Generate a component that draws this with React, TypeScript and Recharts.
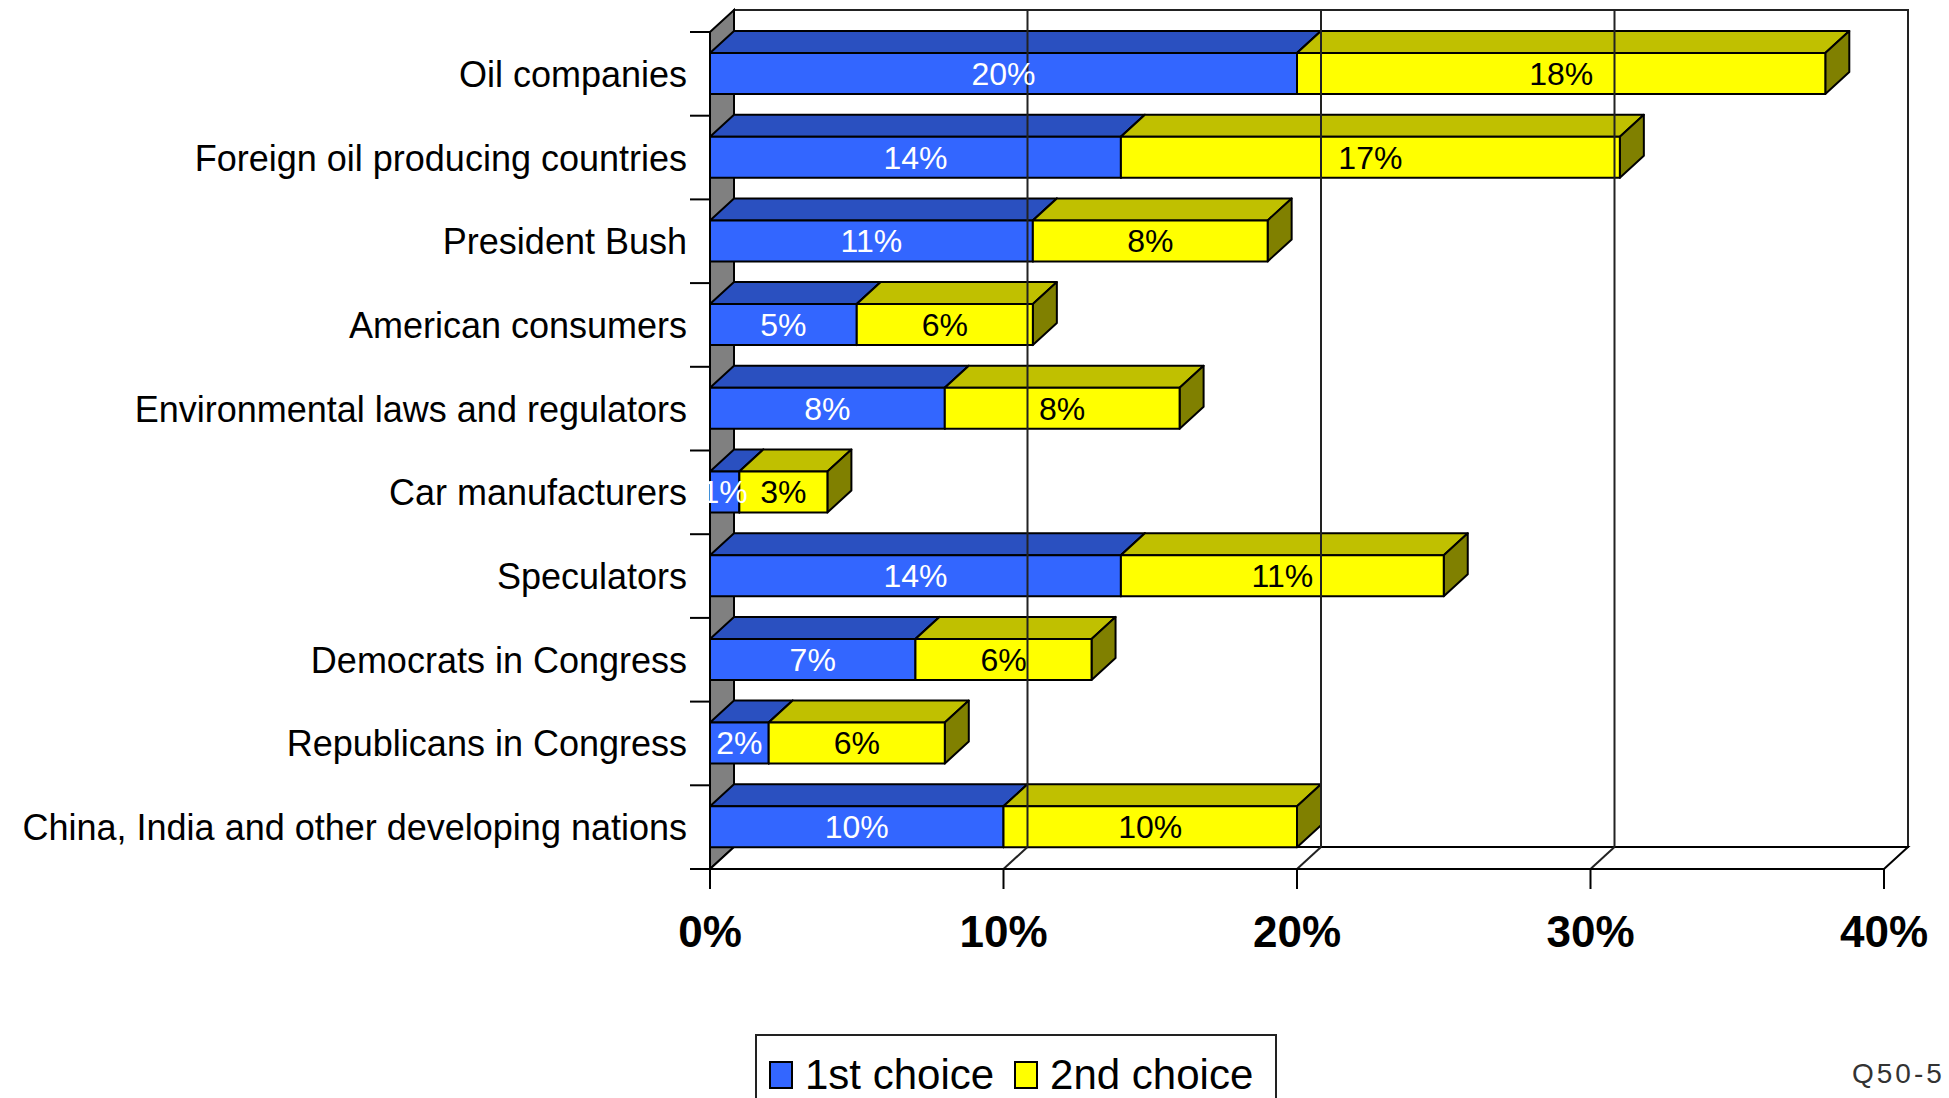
import { Bar, BarChart, LabelList, Legend, ReferenceArea, ReferenceLine, XAxis, YAxis } from 'recharts';

const categories = [
  'Oil companies',
  'Foreign oil producing countries',
  'President Bush',
  'American consumers',
  'Environmental laws and regulators',
  'Car manufacturers',
  'Speculators',
  'Democrats in Congress',
  'Republicans in Congress',
  'China, India and other developing nations',
];
const firstChoice = [20, 14, 11, 5, 8, 1, 14, 7, 2, 10];
const secondChoice = [18, 17, 8, 6, 8, 3, 11, 6, 6, 10];
const xTicks = [0, 10, 20, 30, 40];
const gridValues = [10, 20, 30];
const seriesNames = ['1st choice', '2nd choice'];

const data = categories.map((name, i) => ({ name, first: firstChoice[i], second: secondChoice[i] }));

// depth of the fake 3d box
const DX = 24;
const DY = 22;
const FONT = '"Liberation Sans", Arial, sans-serif';

const BLUE = { front: '#3366ff', top: '#2a50c0', side: '#1a3380' };
const YELLOW = { front: '#ffff00', top: '#c0c000', side: '#808000' };

function makeBox(colors: typeof BLUE) {
  return function Box(props: any) {
    const { x, y, width, height } = props;
    if (width == null || width <= 0) return <g />;
    const r = x + width;
    const b = y + height;
    return (
      <g stroke="#000" strokeWidth={2} strokeLinejoin="round">
        <polygon points={`${x},${y} ${x + DX},${y - DY} ${r + DX},${y - DY} ${r},${y}`} fill={colors.top} />
        <polygon points={`${r},${y} ${r + DX},${y - DY} ${r + DX},${b - DY} ${r},${b}`} fill={colors.side} />
        <rect x={x} y={y} width={width} height={height} fill={colors.front} />
      </g>
    );
  };
}

function Walls(props: any) {
  const { x, y, width, height } = props;
  const b = y + height;
  return (
    <g stroke="#222" strokeWidth={2}>
      <rect x={x + DX} y={y - DY} width={width} height={height} fill="#fff" />
      <polygon points={`${x},${y} ${x + DX},${y - DY} ${x + DX},${b - DY} ${x},${b}`} fill="#808080" stroke="#000" />
      <polygon points={`${x},${b} ${x + DX},${b - DY} ${x + width + DX},${b - DY} ${x + width},${b}`} fill="#fff" stroke="#000" />
    </g>
  );
}

function GridLine(props: any) {
  const { x1, y1, y2 } = props;
  const top = Math.min(y1, y2);
  const bottom = Math.max(y1, y2);
  return (
    <g stroke="#222" strokeWidth={2}>
      <line x1={x1 + DX} y1={top - DY} x2={x1 + DX} y2={bottom - DY} />
      <line x1={x1} y1={bottom} x2={x1 + DX} y2={bottom - DY} />
    </g>
  );
}

function XTick(props: any) {
  const { x, y, payload } = props;
  return (
    <text x={x} y={y + 56} textAnchor="middle" fontFamily={FONT} fontWeight="bold" fontSize={44} fill="#000">
      {`${payload.value}%`}
    </text>
  );
}

function YTick(props: any) {
  const { x, y, payload, index } = props;
  const half = payload.offset || 41.85;
  const edge = x + 23;
  return (
    <g>
      <line x1={edge - 20} y1={y - half} x2={edge} y2={y - half} stroke="#000" strokeWidth={2} />
      {index === categories.length - 1 && (
        <line x1={edge - 20} y1={y + half} x2={edge} y2={y + half} stroke="#000" strokeWidth={2} />
      )}
      <text x={x} y={y + 13} textAnchor="end" fontFamily={FONT} fontSize={36} fill="#000">
        {payload.value}
      </text>
    </g>
  );
}

function LegendBox() {
  const colors = [BLUE.front, YELLOW.front];
  return (
    <div
      style={{
        width: 522,
        height: 80,
        border: '2px solid #222',
        background: '#fff',
        display: 'flex',
        flexWrap: 'nowrap',
        alignItems: 'flex-start',
        paddingTop: 16,
        paddingLeft: 12,
        boxSizing: 'border-box',
        fontFamily: FONT,
        fontSize: 42,
        lineHeight: '46px',
        color: '#000',
        whiteSpace: 'nowrap',
      }}
    >
      {seriesNames.map((n, i) => (
        <div key={n} style={{ display: 'flex', alignItems: 'center', marginRight: 20, flexShrink: 0 }}>
          <span
            style={{
              display: 'inline-block',
              width: 20,
              height: 24,
              background: colors[i],
              border: '2px solid #000',
              marginRight: 12,
              flexShrink: 0,
            }}
          />
          <span style={{ whiteSpace: 'nowrap' }}>{n}</span>
        </div>
      ))}
    </div>
  );
}

export default function App() {
  return (
    <div style={{ position: 'absolute', left: 0, top: 0, width: 1949, height: 1098, background: '#fff', overflow: 'hidden' }}>
      <BarChart
        width={1949}
        height={1098}
        data={data}
        layout="vertical"
        margin={{ top: 32, right: 65, left: 0, bottom: 149 }}
      >
        <ReferenceArea x1={0} x2={40} shape={Walls} ifOverflow="visible" />
        {gridValues.map((v) => (
          <ReferenceLine key={v} x={v} shape={GridLine} ifOverflow="visible" />
        ))}
        <XAxis
          type="number"
          domain={[0, 40]}
          ticks={xTicks}
          interval={0}
          height={80}
          tickSize={20}
          tick={XTick}
          tickLine={{ stroke: '#000', strokeWidth: 2 }}
          axisLine={{ stroke: '#000', strokeWidth: 2 }}
        />
        <YAxis
          type="category"
          dataKey="name"
          width={710}
          interval={0}
          tickSize={0}
          tickMargin={23}
          tickLine={false}
          axisLine={false}
          tick={YTick}
        />
        <Legend
          layout="horizontal"
          verticalAlign="middle"
          content={LegendBox}
          wrapperStyle={{ top: 1034, left: 755, width: 560, height: 80 }}
        />
        <Bar dataKey="first" name={seriesNames[0]} stackId="a" barSize={41} fill={BLUE.front} shape={makeBox(BLUE)} isAnimationActive={false}>
          <LabelList dataKey="first" position="center" formatter={(v: any) => `${v}%`} fill="#fff" fontSize={32} fontFamily={FONT} />
        </Bar>
        <Bar dataKey="second" name={seriesNames[1]} stackId="a" barSize={41} fill={YELLOW.front} shape={makeBox(YELLOW)} isAnimationActive={false}>
          <LabelList dataKey="second" position="center" formatter={(v: any) => `${v}%`} fill="#000" fontSize={32} fontFamily={FONT} />
        </Bar>
      </BarChart>
      <div
        style={{
          position: 'absolute',
          left: 1852,
          top: 1058,
          fontFamily: FONT,
          fontSize: 28,
          letterSpacing: 3,
          color: '#333',
          whiteSpace: 'nowrap',
        }}
      >
        Q50-5
      </div>
    </div>
  );
}
